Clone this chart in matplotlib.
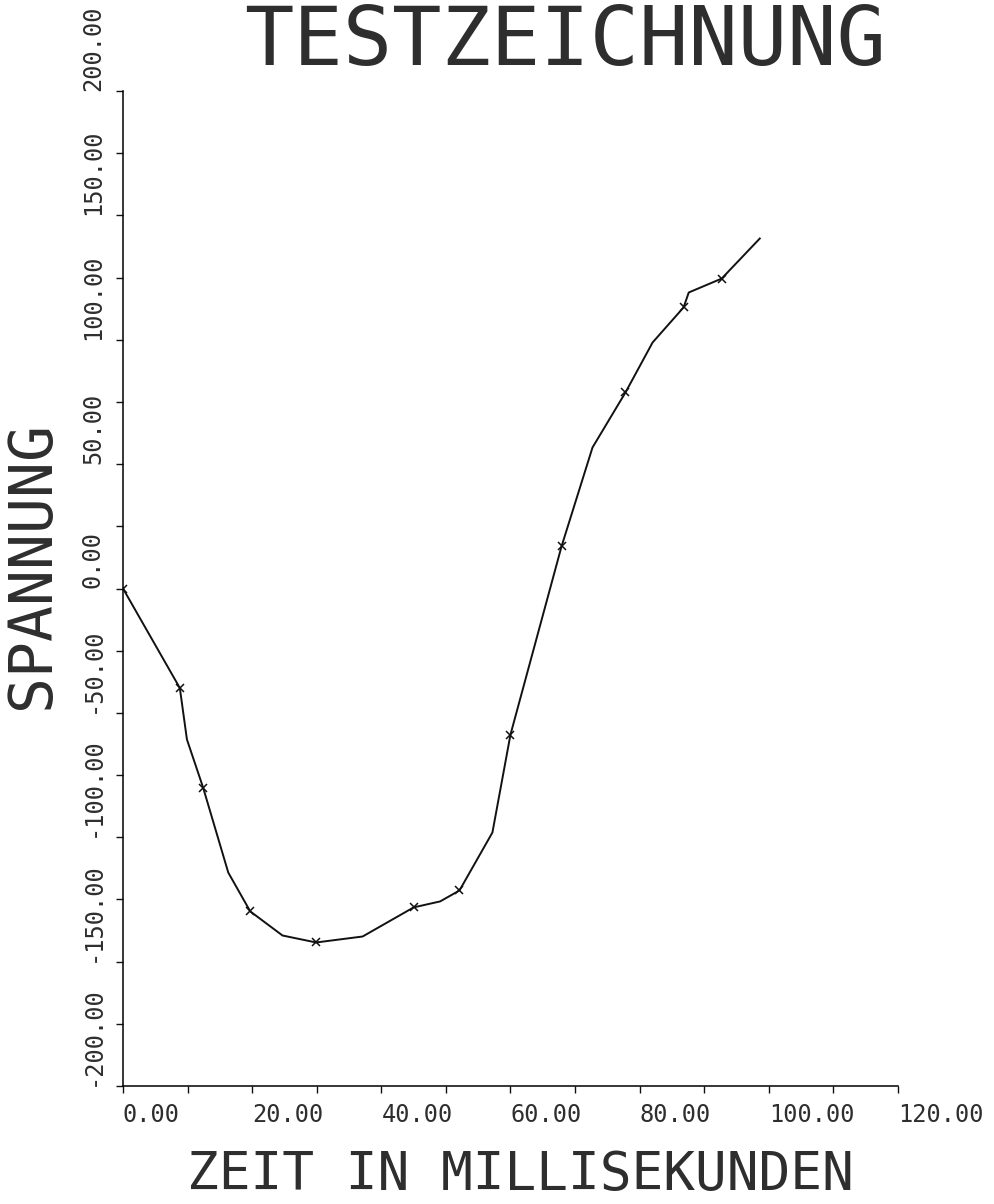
import matplotlib
matplotlib.use("Agg")
import matplotlib.pyplot as plt
from matplotlib.ticker import MultipleLocator

# curve vertices (ms, volt)
zeit = [0, 8.8, 9.9, 12.4, 16.3, 19.7, 24.7, 29.9, 37.1, 45.0, 49.1,
        52.1, 57.2, 60.0, 67.9, 72.7, 77.8, 82.0, 86.8, 87.6, 92.7, 98.6]
spannung = [0, -40, -60.7, -80, -114.2, -129.8, -139.5, -142.3, -139.9,
            -128.2, -125.8, -121.4, -98.1, -58.7, 16.9, 56.7, 78.8, 98.9,
            113, 119, 124.6, 140.7]

# marked measurement points
mess_x = [0, 8.8, 12.4, 19.7, 29.9, 45.0, 52.1, 60.0, 67.9, 77.8, 86.8, 92.7]
mess_y = [0, -40, -80, -129.8, -142.3, -128.2, -121.4, -58.7, 16.9, 78.8,
          113, 124.6]

xticks = [0, 20, 40, 60, 80, 100, 120]
yticks = [-200, -150, -100, -50, 0, 50, 100, 150, 200]

font = "DejaVu Sans Mono"
ink = "#111111"
ink2 = "#2e2e2e"

fig = plt.figure(figsize=(9.94, 12.04), dpi=100)
ax = fig.add_axes([123 / 994, 1 - 1086 / 1204, 775 / 994, 995 / 1204])

ax.plot(zeit, spannung, color=ink, lw=1.4)
ax.plot(mess_x, mess_y, ls="none", marker="x", ms=6, mew=1.1, color=ink)

ax.set_xlim(0, 120)
ax.set_ylim(-200, 200)
ax.spines["top"].set_visible(False)
ax.spines["right"].set_visible(False)
ax.spines["left"].set_linewidth(1.1)
ax.spines["bottom"].set_linewidth(1.1)

ax.set_xticks(xticks)
ax.set_xticklabels(["%.2f" % v for v in xticks], family=font, fontsize=17,
                   color=ink2, ha="left")
ax.set_yticks(yticks)
ax.set_yticklabels(["%.2f" % v for v in yticks], family=font, fontsize=17,
                   color=ink2, rotation=90, va="bottom")
ax.xaxis.set_minor_locator(MultipleLocator(10))
ax.yaxis.set_minor_locator(MultipleLocator(25))
ax.tick_params(which="both", direction="out", length=5, width=1.0, color=ink)
ax.tick_params(axis="x", pad=7)
ax.tick_params(axis="y", pad=8)

fig.text(565 / 994, 1 - 65 / 1204, "TESTZEICHNUNG", family=font, fontsize=59,
         color=ink2, ha="center", va="baseline")
fig.text(520 / 994, 1 - 1190 / 1204, "ZEIT IN MILLISEKUNDEN", family=font,
         fontsize=38, color=ink2, ha="center", va="baseline")
fig.text(33 / 994, 1 - 565 / 1204, "SPANNUNG", family=font, fontsize=43,
         color=ink2, ha="center", va="center", rotation=90)

fig.savefig("out.png", dpi=100)
